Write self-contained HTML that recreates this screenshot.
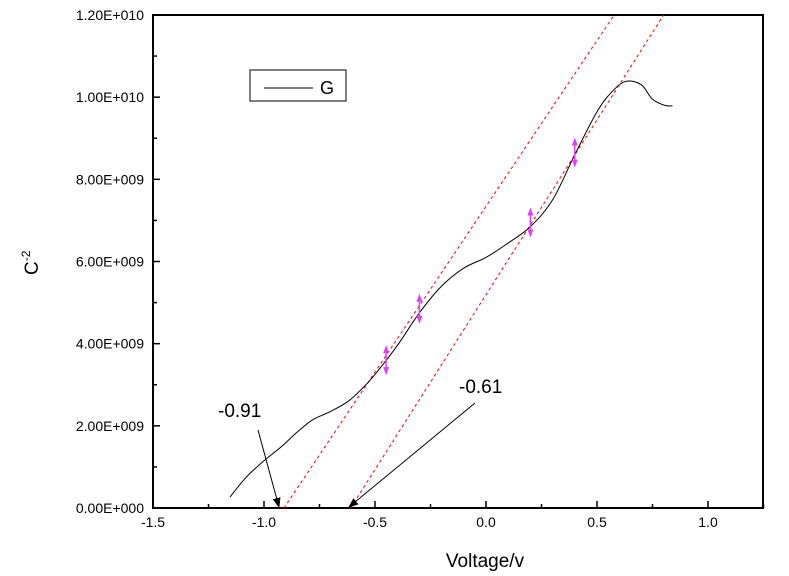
<!DOCTYPE html>
<html><head><meta charset="utf-8"><style>
body{margin:0;background:#fff;}
svg{display:block;font-family:"Liberation Sans",Arial,sans-serif;}
</style></head><body>
<svg id="chart" width="789" height="576" viewBox="0 0 789 576">
<defs><marker id="ah" markerWidth="10" markerHeight="8" refX="9" refY="4" orient="auto" markerUnits="userSpaceOnUse"><path d="M0,0 L10,4 L0,8 Z" fill="#000"/></marker></defs>
</svg>
<script>
const xTicks=[-1.5,-1.0,-0.5,0.0,0.5,1.0];
const xTickLabels=["-1.5","-1.0","-0.5","0.0","0.5","1.0"];
const yTicks=[0,2,4,6,8,10,12];
const yTickLabels=["0.00E+000","2.00E+009","4.00E+009","6.00E+009","8.00E+009","1.00E+010","1.20E+010"];
const voltage=[-1.153,-1.08,-1.0,-0.92,-0.85,-0.78,-0.7,-0.62,-0.55,-0.5,-0.4,-0.3,-0.2,-0.1,0.0,0.1,0.2,0.3,0.4,0.505,0.58,0.635,0.7,0.75,0.806,0.84];
const invC2=[0.27,0.75,1.15,1.5,1.85,2.15,2.35,2.6,2.95,3.25,3.95,4.75,5.4,5.84,6.1,6.45,6.85,7.5,8.6,9.69,10.2,10.39,10.3,9.95,9.8,9.79];
const fitX0=[-0.91,-0.61];
const fitX1=[0.577,0.80];
const fitY1=[12.0,12.0];
const markerX=[-0.45,-0.3,0.2,0.4];
const markerY=[3.6,4.85,6.95,8.65];
const L=153,R=763,T=15,B=508;
const xs=v=>486+v*222;
const ys=v=>B-(v/12)*(B-T);
const svg=document.getElementById('chart');
const NS='http://www.w3.org/2000/svg';
function mk(t,a,txt){const e=document.createElementNS(NS,t);for(const k in a)e.setAttribute(k,a[k]);if(txt!==undefined)e.textContent=txt;svg.appendChild(e);return e;}
let e=mk('rect',{x:L,y:T,width:R-L,height:B-T,fill:'none',stroke:'#000','stroke-width':2});


for(let v=-1.5;v<=1.2501;v+=0.25){const X=xs(v);const maj=Math.abs(v*2-Math.round(v*2))<1e-6;
e=mk('line',{x1:X,x2:X,y1:B,y2:B-(maj?7:4),stroke:'#000','stroke-width':1.5});

}
xTicks.forEach((v,i)=>{e=mk('text',{x:xs(v),y:527,'text-anchor':'middle','font-size':14},xTickLabels[i]);

});
for(let v=0;v<=12.001;v+=1){const Y=ys(v);const maj=Math.round(v)%2===0;
e=mk('line',{x1:L,x2:L+(maj?7:4),y1:Y,y2:Y,stroke:'#000','stroke-width':1.5});

}
yTicks.forEach((v,i)=>{e=mk('text',{x:144,y:ys(v)+5,'text-anchor':'end','font-size':14},yTickLabels[i]);

});
e=mk('text',{x:485,y:567,'text-anchor':'middle','font-size':19},'Voltage/v');


e=mk('text',{x:0,y:0,transform:'translate(38,275) rotate(-90)','font-size':19});


e.innerHTML='C<tspan dy="-8" font-size="12">-2</tspan>';
fitX0.forEach((x0,i)=>{e=mk('line',{x1:xs(x0),y1:ys(0),x2:xs(fitX1[i]),y2:ys(fitY1[i]),stroke:'#f00','stroke-width':1,'stroke-dasharray':'3,3'});

});
const P=voltage.map((v,i)=>[xs(v),ys(invC2[i])]);
let d='M'+P[0][0]+','+P[0][1];
for(let i=0;i<P.length-1;i++){const p0=P[Math.max(0,i-1)],p1=P[i],p2=P[i+1],p3=P[Math.min(P.length-1,i+2)];
d+=` C${p1[0]+(p2[0]-p0[0])/6},${p1[1]+(p2[1]-p0[1])/6} ${p2[0]-(p3[0]-p1[0])/6},${p2[1]-(p3[1]-p1[1])/6} ${p2[0]},${p2[1]}`;}
e=mk('path',{d:d,fill:'none',stroke:'#000','stroke-width':1});


markerX.forEach((x,i)=>{const X=xs(x),Y=ys(markerY[i]);
e=mk('line',{x1:X,x2:X,y1:Y-13,y2:Y+13,stroke:'#e040fb','stroke-width':1.5});


e=mk('path',{d:`M${X},${Y-15} L${X-3},${Y-7} L${X+3},${Y-7} Z M${X},${Y+15} L${X-3},${Y+7} L${X+3},${Y+7} Z`,fill:'#e040fb'});

});
e=mk('rect',{x:250,y:70,width:96,height:31,fill:'#fff',stroke:'#000','stroke-width':1});


e=mk('line',{x1:264,x2:313,y1:88,y2:88,stroke:'#000','stroke-width':1});


e=mk('text',{x:320,y:94,'font-size':18},'G');


e=mk('text',{x:218,y:417,'font-size':19},'-0.91');


e=mk('line',{x1:258,y1:430,x2:279,y2:507,stroke:'#000','stroke-width':1,'marker-end':'url(#ah)'});


e=mk('text',{x:459,y:393,'font-size':19},'-0.61');


e=mk('line',{x1:475,y1:403,x2:349,y2:507,stroke:'#000','stroke-width':1,'marker-end':'url(#ah)'});


</script>
</body></html>
